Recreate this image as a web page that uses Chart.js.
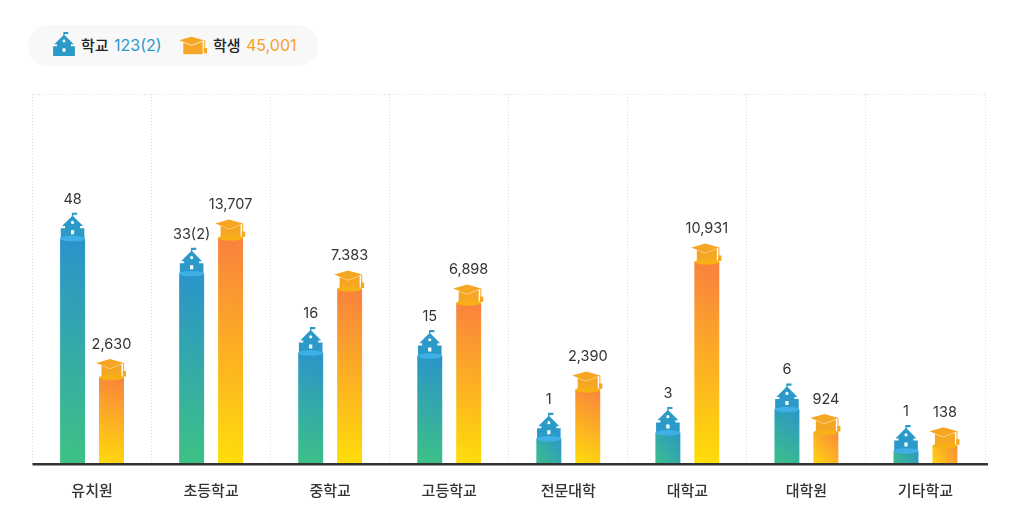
<!DOCTYPE html>
<html lang="ko">
<head>
<meta charset="utf-8">
<script src="https://cdn.jsdelivr.net/npm/chart.js@4/dist/chart.umd.min.js"></script>
<style>
html,body{margin:0;padding:0;background:#fff;width:1016px;height:530px;overflow:hidden;}
#wrap{position:relative;width:1016px;height:530px;font-family:Inter,"Noto Sans CJK KR",sans-serif;}
canvas{position:absolute;left:0;top:0;}
#legend{position:absolute;left:28px;top:25px;width:290px;height:41px;border-radius:21px;background:#f8f8f8;}
#legend svg{position:absolute;overflow:visible;}
#legend span{position:absolute;top:9px;line-height:22px;white-space:nowrap;}
.k{font-size:15px;font-weight:500;color:#222;font-family:"Noto Sans CJK KR",sans-serif;}
.v{font-size:16px;font-weight:400;}
</style>
</head>
<body>
<div id="wrap">
<canvas id="c" width="1016" height="530"></canvas>
<div id="legend">
<svg id="ls" width="24" height="24" style="left:24px;top:7px" viewBox="-12 -26 24 26"></svg>
<span class="k" style="left:53px">학교</span><span class="v" style="left:86px;color:#2b9ac8">123(2)</span>
<svg id="lc" width="29" height="19" style="left:150px;top:11px" viewBox="-15.5 -18.5 30 19"></svg>
<span class="k" style="left:185px">학생</span><span class="v" style="left:218px;color:#f7a12a">45,001</span>
</div>
</div>
<script>
const categories = ['유치원','초등학교','중학교','고등학교','전문대학','대학교','대학원','기타학교'];
const schoolLabels = ['48','33(2)','16','15','1','3','6','1'];
const studentLabels = ['2,630','13,707','7.383','6,898','2,390','10,931','924','138'];
const schoolLevels = [60.9,51.4,30.0,29.2,6.8,8.4,14.7,3.5];
const studentLevels = [23.4,61.1,47.3,43.5,20.0,54.6,8.5,4.9];

const SCHOOL_BODY = 'M0 -26H4.6V-23.8H0.7V-22.5L10.5 -12.6H7.5V-10.5H11.8V0H-11.8V-10.5H-7.5V-12.6H-10.5L-0.7 -22.5V-26Z';
const SCHOOL_HOLES = 'M-1.6 -16.2a1.6 1.6 0 1 0 3.2 0a1.6 1.6 0 1 0 -3.2 0ZM-1.6 -8.5h3.2v4h-3.2Z';
const CAP_BODY = 'M-10 -13H10V0H-10Z';
const CAP_BOARD = 'M-1.5 -18.5L12.5 -14.5L-1.5 -9L-15.5 -14.5Z';
const CAP_TASSEL = 'M11.6 -14.5H12.6V-6.5H14.5V-1H11.2V-6.5H11.6Z';

document.getElementById('ls').innerHTML =
  `<path d="${SCHOOL_BODY}" fill="#2b9ac8"/><path d="${SCHOOL_HOLES}" fill="#fff"/>`;
document.getElementById('lc').innerHTML =
  `<path d="${CAP_BODY}" fill="#f5a623"/><path d="${CAP_BOARD}" fill="#f5a623" stroke="#f8f8f8" stroke-width=".8"/><path d="${CAP_TASSEL}" fill="#f5a623"/>`;

function barGradient(stops, values, side){
  return function(ctx){
    const chart = ctx.chart;
    const sx = chart.scales.x, sy = chart.scales.y;
    if(!sx || !sy || ctx.dataIndex === undefined) return stops[0];
    const bx = sx.getPixelForValue(ctx.dataIndex) + side*19.5;
    const top = sy.getPixelForValue(values[ctx.dataIndex]);
    const bot = sy.getPixelForValue(0);
    if(![bx,top,bot].every(Number.isFinite)) return stops[0];
    const g = chart.ctx.createLinearGradient(bx+18, top, bx-18, bot);
    g.addColorStop(0, stops[0]);
    g.addColorStop(1, stops[1]);
    return g;
  };
}

const marks = {
  id:'marks',
  afterDatasetsDraw(chart){
    const c = chart.ctx;
    const metaA = chart.getDatasetMeta(0).data, metaB = chart.getDatasetMeta(1).data;
    const bodyS = new Path2D(SCHOOL_BODY), holes = new Path2D(SCHOOL_HOLES);
    const capB = new Path2D(CAP_BODY), board = new Path2D(CAP_BOARD), tassel = new Path2D(CAP_TASSEL);
    c.save();
    metaA.forEach((b,i)=>{
      c.save(); c.translate(b.x,b.y);
      c.fillStyle='#2b9ac8'; c.fill(bodyS); c.fillStyle='#fff'; c.fill(holes);
      c.restore();
      c.fillStyle='#3fb0e6';
      c.beginPath(); c.ellipse(b.x,b.y,b.width/2,2.8,0,0,Math.PI*2); c.fill();
      label(c,schoolLabels[i],b.x,b.y-39.5);
    });
    metaB.forEach((b,i)=>{
      c.save(); c.translate(b.x,b.y);
      c.fillStyle='#f5a623'; c.fill(capB);
      c.restore();
      c.fillStyle='#f7b015';
      c.beginPath(); c.ellipse(b.x,b.y,b.width/2,2.8,0,0,Math.PI*2); c.fill();
      c.save(); c.translate(b.x,b.y);
      c.fillStyle='#f5a623'; c.strokeStyle='#fff'; c.lineWidth=.8;
      c.stroke(board); c.fill(board); c.fill(tassel);
      c.restore();
      label(c,studentLabels[i],b.x,b.y-33);
    });
    const y = chart.scales.y.getPixelForValue(0);
    c.fillStyle='#333';
    c.fillRect(chart.chartArea.left, y-1, 988-chart.chartArea.left, 2.5);
    c.restore();
  }
};
function label(c,t,x,y){
  c.font='400 14.5px Inter, "Noto Sans CJK KR", sans-serif';
  c.fillStyle='#333'; c.textAlign='center'; c.textBaseline='middle';
  c.fillText(t,x,y);
}

new Chart(document.getElementById('c'),{
  type:'bar',
  data:{labels:categories,datasets:[
    {label:'학교',data:schoolLevels,backgroundColor:barGradient(['#2a93cc','#3ec283'],schoolLevels,-1),borderWidth:0},
    {label:'학생',data:studentLevels,backgroundColor:barGradient(['#f9803f','#ffdf08'],studentLevels,1),borderWidth:0}
  ]},
  plugins:[marks],
  options:{
    responsive:false,animation:false,
    categoryPercentage:0.654,barPercentage:0.641,
    layout:{padding:{left:32.5,right:31,top:94,bottom:0}},
    plugins:{legend:{display:false},tooltip:{enabled:false}},
    scales:{
      x:{
        grid:{color:'#dedede',drawTicks:false,offset:true},
        border:{display:false,dash:[1,2]},
        ticks:{padding:17,color:'#333',font:{family:'"Noto Sans CJK KR", sans-serif',size:15,weight:'500'},maxRotation:0},
        afterFit(s){s.height=66;}
      },
      y:{
        min:0,max:100,
        grid:{color:'#dedede',drawTicks:false},
        border:{display:false,dash:[1,2]},
        ticks:{display:false,stepSize:100},
        afterFit(s){s.width=0;}
      }
    }
  }
});
</script>
</body>
</html>
